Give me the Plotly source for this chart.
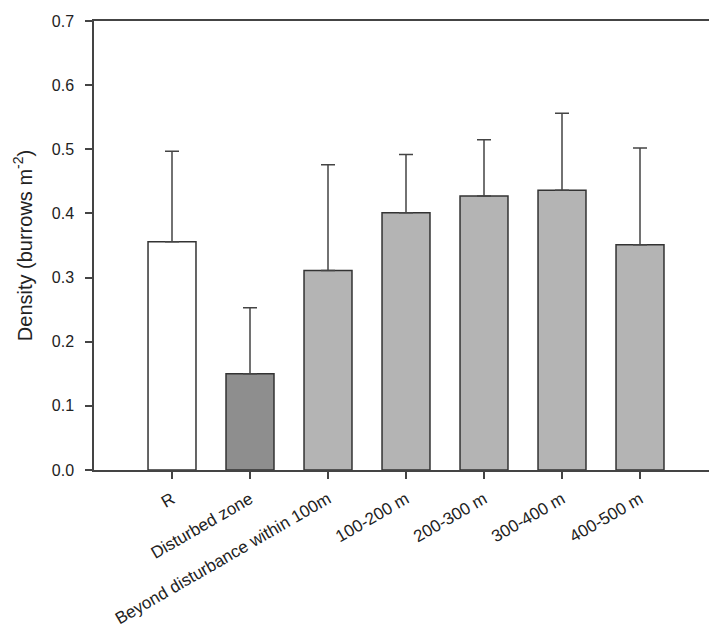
import plotly.graph_objects as go

categories = ["R", "Disturbed zone", "Beyond disturbance within 100m", "100-200 m",
              "200-300 m", "300-400 m", "400-500 m"]
density_mean = [0.356, 0.150, 0.311, 0.401, 0.427, 0.436, 0.351]
density_upper = [0.497, 0.253, 0.476, 0.492, 0.515, 0.556, 0.502]
bar_colors = ["#ffffff", "#8e8e8e", "#b4b4b4", "#b4b4b4", "#b4b4b4", "#b4b4b4", "#b4b4b4"]

err = [u - m for u, m in zip(density_upper, density_mean)]
xpos = list(range(len(categories)))

FONT = "Liberation Sans, Arial, sans-serif"

fig = go.Figure(go.Bar(
    x=xpos, y=density_mean, width=0.615,
    marker=dict(color=bar_colors, line=dict(color="#333333", width=1.5)),
    error_y=dict(type="data", array=err, arrayminus=[0] * len(err), symmetric=False,
                 color="#444444", thickness=1.5, width=7),
))

fig.update_layout(
    width=717, height=631,
    margin=dict(l=86, r=5, t=12, b=169),
    plot_bgcolor="white", paper_bgcolor="white",
    showlegend=False,
    font=dict(family=FONT, size=16, color="#222222"),
)
fig.update_xaxes(
    range=[-1, 7], tickmode="array", tickvals=xpos, ticktext=categories,
    tickangle=-30, ticks="outside", ticklen=7, tickwidth=1.5, tickcolor="#444444",
    showline=True, linecolor="#444444", linewidth=1.5, mirror=True,
    showgrid=False, zeroline=False, ticklabelstandoff=4,
    tickfont=dict(family=FONT, size=17, color="#222222"),
)
fig.update_yaxes(
    range=[0, 0.7], dtick=0.1, tickformat=".1f",
    ticks="outside", ticklen=7, tickwidth=1.5, tickcolor="#444444",
    showline=True, linecolor="#444444", linewidth=1.5, mirror=True,
    showgrid=False, zeroline=False, ticklabelstandoff=8,
    tickfont=dict(family=FONT, size=16, color="#222222"),
    title=dict(text="Density (burrows m<sup>-2</sup>)",
               font=dict(family=FONT, size=20, color="#222222"), standoff=14),
)

fig.write_html("out.html")
